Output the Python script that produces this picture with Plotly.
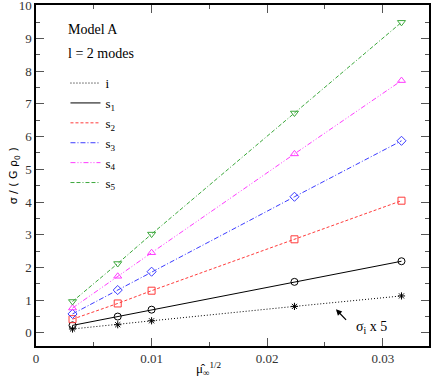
import plotly.graph_objects as go

mu_sqrt = [0.00316, 0.00707, 0.01, 0.02236, 0.03162]

sigma_i = [0.12, 0.25, 0.37, 0.81, 1.13]
sigma_s1 = [0.23, 0.50, 0.71, 1.56, 2.19]
sigma_s2 = [0.42, 0.90, 1.29, 2.86, 4.04]
sigma_s3 = [0.58, 1.31, 1.87, 4.16, 5.87]
sigma_s4 = [0.76, 1.73, 2.45, 5.47, 7.71]
sigma_s5 = [0.96, 2.12, 3.02, 6.72, 9.49]

y_ticks = [0, 1, 2, 3, 4, 5, 6, 7, 8, 9, 10]
x_ticks = [0, 0.01, 0.02, 0.03]
x_labels = ["0", "0.01", "0.02", "0.03"]

series = [
    ("i", sigma_i, "black", "1px,2px", "asterisk-open"),
    ("s<sub>1</sub>", sigma_s1, "black", "solid", "circle-open"),
    ("s<sub>2</sub>", sigma_s2, "#ff3b3b", "3px,2px", "square-open"),
    ("s<sub>3</sub>", sigma_s3, "#3b3bff", "5px,2px,1px,2px", "diamond-open"),
    ("s<sub>4</sub>", sigma_s4, "#ff3bff", "5px,2px,1px,2px,1px,2px", "triangle-up-open"),
    ("s<sub>5</sub>", sigma_s5, "#3ca83c", "4px,2px,4px,2px,1px,2px", "triangle-down-open"),
]

serif = "Liberation Serif"

fig = go.Figure()

for nombre, valores, color, estilo, simbolo in series:
    fig.add_trace(go.Scatter(
        x=mu_sqrt, y=valores, mode="lines+markers", showlegend=False,
        line=dict(color=color, width=1, dash=estilo),
        marker=dict(symbol=simbolo, size=7 if simbolo != "asterisk-open" else 6,
                    color=color, line=dict(color=color, width=1)),
    ))
    # entrada de leyenda solo con la linea
    fig.add_trace(go.Scatter(
        x=[None], y=[None], mode="lines", name=nombre,
        line=dict(color=color, width=1, dash=estilo),
    ))

fig.add_annotation(x=0.0, y=1.0, xref="paper", yref="paper", xanchor="left", yanchor="top",
                   xshift=30, yshift=-15, text="Model A", showarrow=False,
                   font=dict(family=serif, size=14, color="black"))
fig.add_annotation(x=0.0, y=1.0, xref="paper", yref="paper", xanchor="left", yanchor="top",
                   xshift=30, yshift=-39, text="l = 2 modes", showarrow=False,
                   font=dict(family=serif, size=14, color="black"))

fig.add_annotation(x=0.02595, y=0.72, ax=0.02695, ay=0.35, xref="x", yref="y", axref="x", ayref="y",
                   text="", showarrow=True, arrowhead=2, arrowsize=1, arrowwidth=1.2, arrowcolor="black")
fig.add_annotation(x=0.029, y=0.17, xref="x", yref="y", xanchor="center", yanchor="middle",
                   text="σ<sub>i</sub> x 5", showarrow=False,
                   font=dict(family=serif, size=14, color="black"))

fig.add_annotation(x=-0.078, y=0.4985, xref="paper", yref="paper", textangle=-90,
                   text="σ / ( G ρ<sub>0</sub> )", showarrow=False,
                   font=dict(family="DejaVu Sans", size=11, color="black"))
fig.add_annotation(x=0.44, y=-0.035, xref="paper", yref="paper", yanchor="top",
                   text="μ̂<sub>∞</sub><sup>1/2</sup>", showarrow=False,
                   font=dict(family=serif, size=13, color="black"))

eje = dict(showgrid=False, zeroline=False, showline=True, linecolor="black", linewidth=1.5,
           mirror="allticks", ticks="inside", ticklen=8, tickwidth=1, tickcolor="#555",
           automargin=False, ticklabeloverflow="allow",
           tickfont=dict(family=serif, size=13, color="#333"))

fig.update_xaxes(**eje, range=[0, 0.034], tickvals=x_ticks, ticktext=x_labels,
                 minor=dict(dtick=0.005, tick0=0, ticks="inside", ticklen=4, tickcolor="#555"))
fig.update_yaxes(**eje, range=[-0.4, 10.02], tickvals=y_ticks,
                 minor=dict(dtick=0.5, tick0=0, ticks="inside", ticklen=4, tickcolor="#555"))

fig.update_layout(
    width=432, height=382,
    margin=dict(l=36, r=3, t=5, b=36, autoexpand=False),
    plot_bgcolor="white", paper_bgcolor="white",
    font=dict(family=serif, size=13, color="black"),
    legend=dict(x=0.075, y=0.815, xanchor="left", yanchor="top", bgcolor="rgba(0,0,0,0)",
                font=dict(family=serif, size=13), tracegroupgap=0, itemwidth=30),
)

fig.write_html("out.html", config={"displayModeBar": False},
               post_script="document.body.style.margin='0';")
